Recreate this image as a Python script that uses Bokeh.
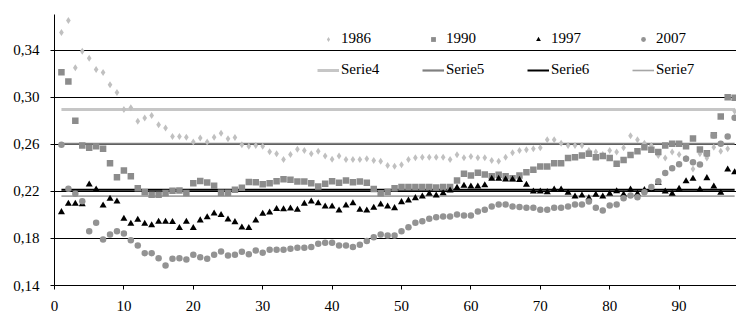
from bokeh.plotting import figure
from bokeh.models import Range1d, FixedTicker, CustomJSTickFormatter, Legend, LegendItem
from bokeh.embed import file_html
from bokeh.resources import INLINE

ages = list(range(1, 99))

y1986 = [0.355, 0.365, 0.325, 0.339, 0.333, 0.3235, 0.321, 0.3105, 0.304, 0.2895,
         0.291, 0.2796, 0.2822, 0.2844, 0.2765, 0.2737, 0.2666, 0.2666, 0.266, 0.2618,
         0.2652, 0.2618, 0.266, 0.2694, 0.2646, 0.2657, 0.2595, 0.2583, 0.2589, 0.2583,
         0.2536, 0.2519, 0.2471, 0.2513, 0.2558, 0.2547, 0.2519, 0.2541, 0.2499, 0.2473,
         0.2499, 0.2471, 0.2471, 0.2471, 0.2476, 0.2462, 0.2456, 0.2419, 0.2414, 0.2425,
         0.2471, 0.2485, 0.249, 0.249, 0.249, 0.249, 0.2471, 0.251, 0.2485, 0.2496,
         0.2485, 0.2485, 0.2462, 0.2456, 0.249, 0.2528, 0.2547, 0.2553, 0.2561, 0.257,
         0.2638, 0.2638, 0.2609, 0.259, 0.259, 0.259, 0.2547, 0.2533, 0.2513, 0.2547,
         0.2533, 0.257, 0.2672, 0.2638, 0.2609, 0.259, 0.2505, 0.2482, 0.2533, 0.2513,
         0.248, 0.239, 0.2519, 0.2482, 0.2575, 0.2541, 0.2561, 0.288]

y1990 = [0.3212, 0.3133, 0.2799, 0.259, 0.257, 0.2583, 0.2561, 0.2439, 0.232, 0.2377,
         0.2329, 0.2227, 0.2193, 0.217, 0.217, 0.2186, 0.2204, 0.2207, 0.2185, 0.2268,
         0.2287, 0.2275, 0.2248, 0.2188, 0.2188, 0.2213, 0.223, 0.228, 0.2278, 0.2261,
         0.2269, 0.2286, 0.2302, 0.2298, 0.2284, 0.2284, 0.2269, 0.2241, 0.2264, 0.2286,
         0.2272, 0.2292, 0.2278, 0.2284, 0.2272, 0.222, 0.2184, 0.2195, 0.2226, 0.2236,
         0.2236, 0.2236, 0.2236, 0.2236, 0.2232, 0.2236, 0.2236, 0.2292, 0.2349, 0.2335,
         0.2358, 0.2342, 0.2329, 0.2341, 0.2329, 0.231, 0.2335, 0.2363, 0.2383, 0.2411,
         0.2411, 0.2439, 0.2439, 0.2482, 0.249, 0.2505, 0.2519, 0.249, 0.2499, 0.2482,
         0.2434, 0.2465, 0.2509, 0.2541, 0.2575, 0.2553, 0.2533, 0.259, 0.2604, 0.2604,
         0.2583, 0.2649, 0.2556, 0.2523, 0.2677, 0.2836, 0.300, 0.2994]

y1997 = [0.2023, 0.2094, 0.2094, 0.209, 0.2258, 0.2216, 0.208, 0.2137, 0.2114, 0.1967,
         0.1924, 0.1958, 0.1924, 0.1912, 0.1941, 0.1942, 0.194, 0.1888, 0.1941, 0.1888,
         0.1953, 0.198, 0.2011, 0.1999, 0.1961, 0.1938, 0.1892, 0.1888, 0.1952, 0.2009,
         0.202, 0.205, 0.2048, 0.2054, 0.2043, 0.2094, 0.2114, 0.2099, 0.2071, 0.2071,
         0.2037, 0.208, 0.2099, 0.2043, 0.2037, 0.206, 0.2088, 0.2071, 0.2057, 0.2108,
         0.2122, 0.2142, 0.2156, 0.2179, 0.2165, 0.2184, 0.2207, 0.223, 0.2247, 0.2241,
         0.2241, 0.2252, 0.2306, 0.2306, 0.23, 0.23, 0.2297, 0.2255, 0.2199, 0.2199,
         0.2193, 0.2216, 0.2216, 0.2188, 0.2156, 0.2165, 0.2142, 0.217, 0.2156, 0.2179,
         0.22, 0.2173, 0.2215, 0.2179, 0.221, 0.222, 0.2273, 0.2199, 0.2179, 0.2222,
         0.2285, 0.2306, 0.2215, 0.2312, 0.2241, 0.2188, 0.2385, 0.2362]

y2007 = [0.2595, 0.2222, 0.2179, 0.2116, 0.1861, 0.1933, 0.1791, 0.1833, 0.1861, 0.1842,
         0.1785, 0.174, 0.1674, 0.1674, 0.1632, 0.157, 0.1627, 0.1632, 0.1621, 0.1661,
         0.1641, 0.1627, 0.1661, 0.1689, 0.1655, 0.1661, 0.1686, 0.1666, 0.1697, 0.1678,
         0.1703, 0.1703, 0.1703, 0.1712, 0.172, 0.172, 0.1726, 0.1754, 0.1763, 0.1763,
         0.174, 0.174, 0.1726, 0.1746, 0.1777, 0.181, 0.1833, 0.1825, 0.1825, 0.1861,
         0.1895, 0.1933, 0.1946, 0.1967, 0.198, 0.1986, 0.1986, 0.2003, 0.1995, 0.1995,
         0.2029, 0.2044, 0.2071, 0.2088, 0.2088, 0.2071, 0.2066, 0.206, 0.206, 0.2043,
         0.2043, 0.206, 0.206, 0.2071, 0.2088, 0.2088, 0.2114, 0.206, 0.2037, 0.208,
         0.2087, 0.2141, 0.2165, 0.215, 0.2193, 0.2236, 0.2285, 0.2356, 0.2395, 0.243,
         0.2476, 0.2448, 0.2427, 0.2519, 0.2674, 0.2604, 0.2666, 0.2825]

# constant reference series
serie4_level = 0.2895
serie5_level = 0.2604
serie6_level = 0.2213
serie7_level = 0.2159

y_ticks = [0.14, 0.18, 0.22, 0.26, 0.30, 0.34]
x_ticks = [0, 10, 20, 30, 40, 50, 60, 70, 80, 90]

FONT = "Liberation Serif"

p = figure(width=736, height=313, output_backend="svg", toolbar_location=None,
           x_range=Range1d(0, 98.27), y_range=Range1d(0.14, 0.3702),
           min_border_left=54, min_border_right=0, min_border_top=14, min_border_bottom=28)
p.outline_line_color = None
p.background_fill_color = "white"
p.border_fill_color = "white"

p.xgrid.visible = False
p.ygrid.ticker = FixedTicker(ticks=y_ticks)
p.ygrid.grid_line_color = "black"
p.ygrid.grid_line_width = 1

p.xaxis.ticker = FixedTicker(ticks=x_ticks)
p.yaxis.ticker = FixedTicker(ticks=y_ticks)
p.yaxis.formatter = CustomJSTickFormatter(code="return tick.toFixed(2).replace('.', ',');")
for ax in (p.xaxis, p.yaxis):
    ax.axis_line_color = "black"
    ax.axis_line_width = 1
    ax.major_tick_line_color = "black"
    ax.major_tick_in = 0
    ax.major_tick_out = 4
    ax.minor_tick_line_color = None
    ax.major_label_text_font = FONT
    ax.major_label_text_font_size = "15px"
    ax.major_label_text_color = "black"
p.yaxis.major_label_standoff = 11
p.xaxis.major_label_standoff = 11

n = len(ages)
r4 = p.line(ages, [serie4_level] * n, line_color="#c6c6c6", line_width=3)
r5 = p.line(ages, [serie5_level] * n, line_color="#808080", line_width=2.2)
r6 = p.line(ages, [serie6_level] * n, line_color="black", line_width=2)
r7 = p.line(ages, [serie7_level] * n, line_color="#a6a6a6", line_width=1.6)

r86 = p.scatter(ages, y1986, marker="diamond", size=7, fill_color="#c0c0c0", line_color=None)
r90 = p.scatter(ages, y1990, marker="square", size=6.5, fill_color="#8c8c8c", line_color=None)
r97 = p.scatter(ages, y1997, marker="triangle", size=7, fill_color="black", line_color=None)
r07 = p.scatter(ages, y2007, marker="circle", size=6.5, fill_color="#939393", line_color=None)

def make_legend(items, loc):
    lg = Legend(items=items, orientation="horizontal", location=loc,
                label_text_font=FONT, label_text_font_size="15px", label_text_color="black",
                glyph_width=22, glyph_height=12, label_standoff=2, label_width=45,
                label_height=17, spacing=36, padding=18, margin=0,
                border_line_color=None, background_fill_color="white",
                background_fill_alpha=1.0)
    return lg

leg1 = make_legend([LegendItem(label="1986", renderers=[r86]),
                    LegendItem(label="1990", renderers=[r90]),
                    LegendItem(label="1997", renderers=[r97]),
                    LegendItem(label="2007", renderers=[r07])], (263, 238))
leg2 = make_legend([LegendItem(label="Serie4", renderers=[r4]),
                    LegendItem(label="Serie5", renderers=[r5]),
                    LegendItem(label="Serie6", renderers=[r6]),
                    LegendItem(label="Serie7", renderers=[r7])], (263, 207))
p.add_layout(leg1, "center")
p.add_layout(leg2, "center")

open("out.html", "w").write(file_html(p, INLINE))
